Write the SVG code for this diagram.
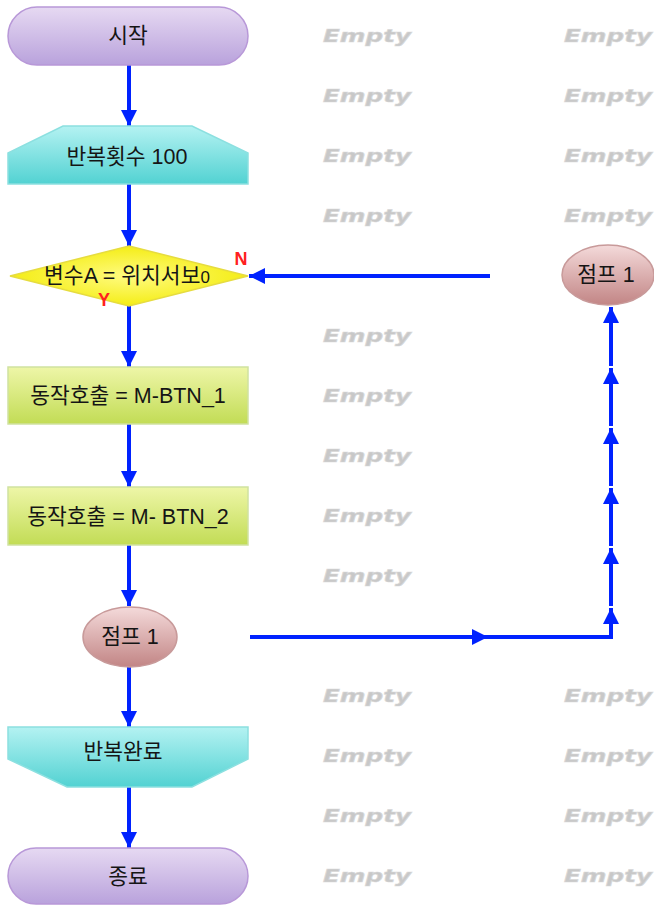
<svg xmlns="http://www.w3.org/2000/svg" width="654" height="905" viewBox="0 0 654 905">
<defs>
<linearGradient id="gPurple" x1="0" y1="0" x2="0" y2="1"><stop offset="0" stop-color="#e6d9f2"/><stop offset="1" stop-color="#b9a2dc"/></linearGradient>
<linearGradient id="gCyan" x1="0" y1="0" x2="0" y2="1"><stop offset="0" stop-color="#b4f2f2"/><stop offset="1" stop-color="#52d2d2"/></linearGradient>
<radialGradient id="gYellow" cx="0.5" cy="0.5" r="0.6"><stop offset="0" stop-color="#fffb80"/><stop offset="1" stop-color="#f2ea00"/></radialGradient>
<linearGradient id="gGreen" x1="0" y1="0" x2="0" y2="1"><stop offset="0" stop-color="#eef6a8"/><stop offset="1" stop-color="#c2dc55"/></linearGradient>
<linearGradient id="gPink" x1="0" y1="0" x2="0" y2="1"><stop offset="0" stop-color="#f4dada"/><stop offset="1" stop-color="#c28585"/></linearGradient>
<marker id="ah" markerUnits="userSpaceOnUse" markerWidth="18" markerHeight="18" viewBox="0 0 18 18" refX="16" refY="9" orient="auto">
<path d="M0,1 L16,9 L0,17 Z" fill="#0022ff"/>
</marker>
<style>
.t{font-family:"Liberation Sans","Noto Sans CJK KR",sans-serif;font-size:21.5px;fill:#151515;text-anchor:middle}
.e{font-family:"DejaVu Sans",sans-serif;font-size:17px;font-weight:bold;font-style:italic;fill:#c8c8c8;text-anchor:middle;stroke:#d8d8d8;stroke-width:0.6}
.c{stroke:#0022ff;stroke-width:4;fill:none}
.lab{font-family:"Liberation Sans",sans-serif;font-size:18px;font-weight:bold;fill:#ff2020;text-anchor:middle}
</style>
</defs>
<g id="empties">
<text class="e" x="367" y="42" textLength="88" lengthAdjust="spacingAndGlyphs">Empty</text><text class="e" x="608" y="42" textLength="88" lengthAdjust="spacingAndGlyphs">Empty</text>
<text class="e" x="367" y="102" textLength="88" lengthAdjust="spacingAndGlyphs">Empty</text><text class="e" x="608" y="102" textLength="88" lengthAdjust="spacingAndGlyphs">Empty</text>
<text class="e" x="367" y="162" textLength="88" lengthAdjust="spacingAndGlyphs">Empty</text><text class="e" x="608" y="162" textLength="88" lengthAdjust="spacingAndGlyphs">Empty</text>
<text class="e" x="367" y="222" textLength="88" lengthAdjust="spacingAndGlyphs">Empty</text><text class="e" x="608" y="222" textLength="88" lengthAdjust="spacingAndGlyphs">Empty</text>
<text class="e" x="367" y="342" textLength="88" lengthAdjust="spacingAndGlyphs">Empty</text>
<text class="e" x="367" y="402" textLength="88" lengthAdjust="spacingAndGlyphs">Empty</text>
<text class="e" x="367" y="462" textLength="88" lengthAdjust="spacingAndGlyphs">Empty</text>
<text class="e" x="367" y="522" textLength="88" lengthAdjust="spacingAndGlyphs">Empty</text>
<text class="e" x="367" y="582" textLength="88" lengthAdjust="spacingAndGlyphs">Empty</text>
<text class="e" x="367" y="702" textLength="88" lengthAdjust="spacingAndGlyphs">Empty</text><text class="e" x="608" y="702" textLength="88" lengthAdjust="spacingAndGlyphs">Empty</text>
<text class="e" x="367" y="762" textLength="88" lengthAdjust="spacingAndGlyphs">Empty</text><text class="e" x="608" y="762" textLength="88" lengthAdjust="spacingAndGlyphs">Empty</text>
<text class="e" x="367" y="822" textLength="88" lengthAdjust="spacingAndGlyphs">Empty</text><text class="e" x="608" y="822" textLength="88" lengthAdjust="spacingAndGlyphs">Empty</text>
<text class="e" x="367" y="882" textLength="88" lengthAdjust="spacingAndGlyphs">Empty</text><text class="e" x="608" y="882" textLength="88" lengthAdjust="spacingAndGlyphs">Empty</text>
</g>
<g id="connectors">
<line class="c" x1="129" y1="65" x2="129" y2="126" marker-end="url(#ah)"/>
<line class="c" x1="129" y1="184" x2="129" y2="246" marker-end="url(#ah)"/>
<line class="c" x1="129" y1="306" x2="129" y2="367" marker-end="url(#ah)"/>
<line class="c" x1="129" y1="424" x2="129" y2="487" marker-end="url(#ah)"/>
<line class="c" x1="129" y1="545" x2="129" y2="606" marker-end="url(#ah)"/>
<line class="c" x1="129" y1="667" x2="129" y2="727" marker-end="url(#ah)"/>
<line class="c" x1="129" y1="787" x2="129" y2="848" marker-end="url(#ah)"/>
<line class="c" x1="490" y1="276" x2="249" y2="276" marker-end="url(#ah)"/>
<line class="c" x1="250" y1="637" x2="488" y2="637" marker-end="url(#ah)"/>
<polyline class="c" points="486,637 611,637 611,624"/>
<line class="c" x1="611" y1="624" x2="611" y2="608" marker-end="url(#ah)"/>
<line class="c" x1="611" y1="606" x2="611" y2="548" marker-end="url(#ah)"/>
<line class="c" x1="611" y1="546" x2="611" y2="488" marker-end="url(#ah)"/>
<line class="c" x1="611" y1="486" x2="611" y2="428" marker-end="url(#ah)"/>
<line class="c" x1="611" y1="426" x2="611" y2="368" marker-end="url(#ah)"/>
<line class="c" x1="611" y1="366" x2="611" y2="307" marker-end="url(#ah)"/>
</g>
<g id="start">
<rect x="8" y="7" width="240" height="58" rx="29" fill="url(#gPurple)" stroke="#b898d8" stroke-width="1.5"/>
<text class="t" x="128" y="43">시작</text>
</g>
<g id="loopStart">
<polygon points="63,126 192,126 248,153 248,184 8,184 8,153" fill="url(#gCyan)" stroke="#8ce0e0" stroke-width="1.5"/>
<text class="t" x="127" y="164">반복횟수 100</text>
</g>
<g id="decision">
<polygon points="129,246 248,276 129,306 10,276" fill="url(#gYellow)" stroke="#e6dc40" stroke-width="1.5"/>
<text class="t" x="127" y="283">변수A = 위치서보<tspan font-size="17">0</tspan></text>
<text class="lab" x="241" y="265">N</text>
<text class="lab" x="104" y="306">Y</text>
</g>
<g id="call1">
<rect x="8" y="367" width="240" height="57" fill="url(#gGreen)" stroke="#d0e2a0" stroke-width="1.5"/>
<text class="t" x="128" y="403">동작호출 = M-BTN_1</text>
</g>
<g id="call2">
<rect x="8" y="487" width="240" height="58" fill="url(#gGreen)" stroke="#d0e2a0" stroke-width="1.5"/>
<text class="t" x="128" y="524">동작호출 = M- BTN_2</text>
</g>
<g id="jump1">
<ellipse cx="130" cy="637" rx="47" ry="30" fill="url(#gPink)" stroke="#c89a9a" stroke-width="1.5"/>
<text class="t" x="130" y="644">점프 1</text>
</g>
<g id="loopEnd">
<polygon points="8,727 248,727 248,759 192,787 67,787 8,759" fill="url(#gCyan)" stroke="#8ce0e0" stroke-width="1.5"/>
<text class="t" x="123" y="759">반복완료</text>
</g>
<g id="end">
<rect x="8" y="848" width="240" height="56" rx="28" fill="url(#gPurple)" stroke="#b898d8" stroke-width="1.5"/>
<text class="t" x="128" y="884">종료</text>
</g>
<g id="jump1b">
<ellipse cx="608" cy="275" rx="46" ry="30" fill="url(#gPink)" stroke="#c89a9a" stroke-width="1.5"/>
<text class="t" x="606" y="282">점프 1</text>
</g>
</svg>
